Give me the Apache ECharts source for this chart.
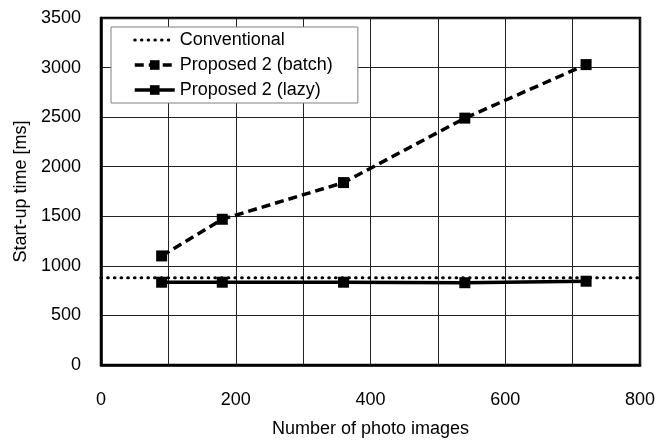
<!DOCTYPE html>
<html>
<head>
<meta charset="utf-8">
<script src="https://cdn.jsdelivr.net/npm/echarts@6/dist/echarts.min.js"></script>
<style>
html,body{margin:0;padding:0;background:#fff;}
#chart{width:660px;height:443px;}
</style>
</head>
<body>
<div id="chart"></div>
<script>
// ---- data ----
const seriesNames = ['Conventional', 'Proposed 2 (batch)', 'Proposed 2 (lazy)'];
const photoCounts = [90, 180, 360, 540, 720];
const batchTimes = [1100, 1470, 1840, 2490, 3030];
const lazyTimes = [835, 835, 835, 830, 845];
const conventionalX = [0, 800];
const conventionalTimes = [880, 880];
const xTicks = [0, 200, 400, 600, 800];
const yTicks = [0, 500, 1000, 1500, 2000, 2500, 3000, 3500];

const FONT = 'Liberation Sans, Arial, sans-serif';
const chart = echarts.init(document.getElementById('chart'), null, {renderer: 'canvas'});

const zip = (xs, ys) => xs.map((x, i) => [x, ys[i]]);

chart.setOption({
  animation: false,
  backgroundColor: '#fff',
  grid: {
    left: 101, right: 20, top: 18, bottom: 75,
    show: true, borderColor: '#000', borderWidth: 2.5, backgroundColor: 'transparent'
  },
  legend: {
    orient: 'vertical',
    left: 111, top: 27,
    padding: [4, 25, 4, 22],
    itemWidth: 40, itemHeight: 12, itemGap: 7,
    backgroundColor: '#fff',
    borderColor: '#808080', borderWidth: 1,
    textStyle: {fontFamily: FONT, fontSize: 18, color: '#000', lineHeight: 18},
    data: [
      {name: seriesNames[0], itemStyle: {opacity: 0}, lineStyle: {width: 3}},
      {name: seriesNames[1], lineStyle: {width: 3.5}},
      {name: seriesNames[2], lineStyle: {width: 3.5}}
    ]
  },
  xAxis: {
    type: 'value',
    min: xTicks[0], max: xTicks[xTicks.length - 1], interval: 200,
    name: 'Number of photo images',
    nameLocation: 'middle', nameGap: 55,
    nameTextStyle: {fontFamily: FONT, fontSize: 18, color: '#000'},
    axisLine: {show: true, onZero: false, lineStyle: {color: '#000', width: 2.5}},
    axisTick: {show: false},
    axisLabel: {fontFamily: FONT, fontSize: 18, color: '#000', margin: 26, formatter: v => String(v)},
    splitLine: {show: true, lineStyle: {color: '#222', width: 1}},
    minorTick: {show: false, splitNumber: 2},
    minorSplitLine: {show: true, lineStyle: {color: '#222', width: 1}}
  },
  yAxis: {
    type: 'value',
    min: yTicks[0], max: yTicks[yTicks.length - 1], interval: 500,
    name: 'Start-up time [ms]',
    nameLocation: 'middle', nameGap: 57,
    nameTextStyle: {fontFamily: FONT, fontSize: 18, color: '#000'},
    axisLine: {show: true, onZero: false, lineStyle: {color: '#000', width: 2.5}},
    axisTick: {show: false},
    axisLabel: {fontFamily: FONT, fontSize: 18, color: '#000', margin: 20, formatter: v => String(v)},
    splitLine: {show: true, lineStyle: {color: '#222', width: 1}}
  },
  series: [
    {
      name: seriesNames[0], type: 'line',
      data: zip(conventionalX, conventionalTimes),
      symbol: 'none',
      lineStyle: {color: '#000', width: 3.2, type: [0.5, 6.2], cap: 'round'},
      itemStyle: {color: '#000'},
      z: 3
    },
    {
      name: seriesNames[1], type: 'line',
      data: zip(photoCounts, batchTimes),
      symbol: 'rect', symbolSize: 11,
      lineStyle: {color: '#000', width: 3.5, type: [9, 5]},
      itemStyle: {color: '#000'},
      z: 4
    },
    {
      name: seriesNames[2], type: 'line',
      data: zip(photoCounts, lazyTimes),
      symbol: 'rect', symbolSize: 11,
      lineStyle: {color: '#000', width: 3.5},
      itemStyle: {color: '#000'},
      z: 4
    }
  ]
});
</script>
</body>
</html>
